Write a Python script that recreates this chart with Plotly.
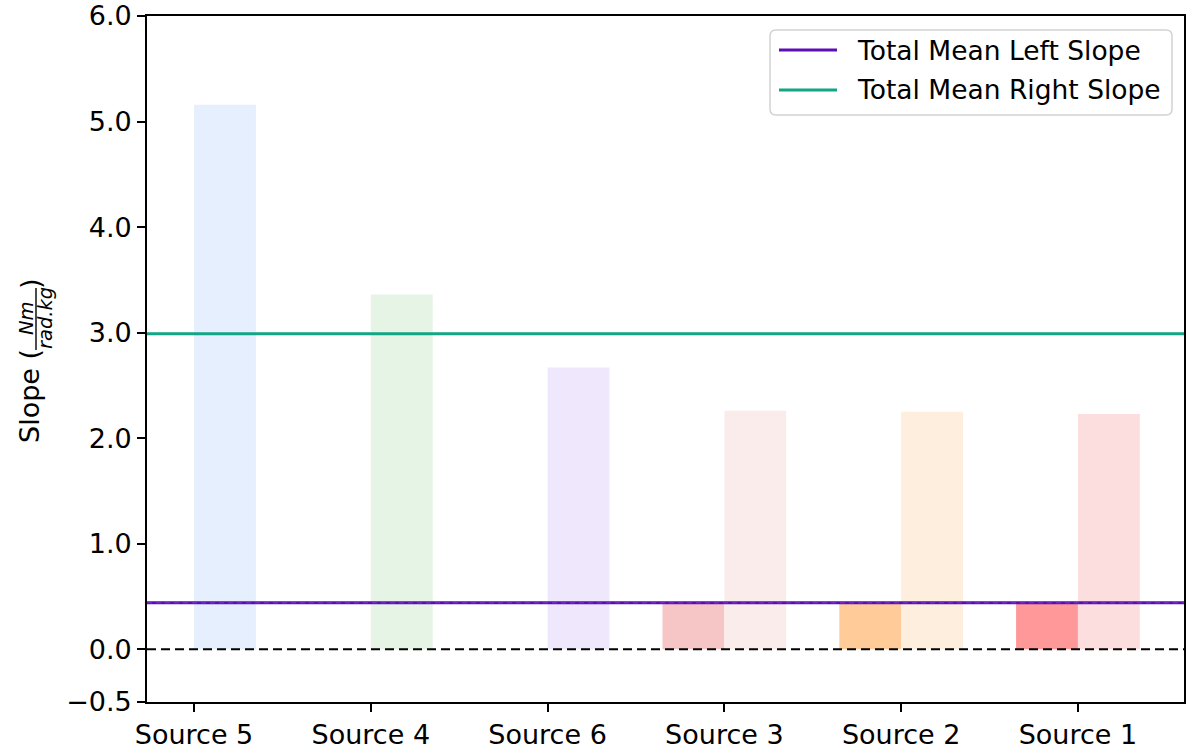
import re
import plotly.graph_objects as go

# Data
sources = ["Source 5", "Source 4", "Source 6", "Source 3", "Source 2", "Source 1"]
left_slope = [None, None, None, 0.44, 0.44, 0.44]
right_slope = [5.16, 3.36, 2.67, 2.26, 2.25, 2.23]
left_colors = ["#e5effd", "#e5f4e5", "#efe7fc", "#f6c6c6", "#ffcc99", "#ff9999"]
right_colors = ["#e5effd", "#e5f4e5", "#efe7fc", "#fbecec", "#feeede", "#fddede"]
y_ticks = [-0.5, 0.0, 1.0, 2.0, 3.0, 4.0, 5.0, 6.0]
y_tick_labels = ["\u22120.5", "0.0", "1.0", "2.0", "3.0", "4.0", "5.0", "6.0"]
legend_names = ["Total Mean Left Slope", "Total Mean Right Slope"]
line_colors = ["#5c0eb2", "#12a586"]

left_vals = [v for v in left_slope if v is not None]
mean_left = sum(left_vals) / len(left_vals)
mean_right = sum(right_slope) / len(right_slope)
means = [mean_left, mean_right]

FONT = "DejaVu Sans"
TICK_SIZE = 27
W, H = 1188, 751
ML, MR, MT, MB = 147, 4, 16, 49
PW, PH = W - ML - MR, H - MT - MB


def px_x(px):
    return (px - ML) / PW


def px_y(py):
    return (H - MB - py) / PH


fig = go.Figure()
fig.add_trace(go.Bar(x=sources, y=left_slope, marker=dict(color=left_colors, line=dict(width=0)),
                     showlegend=False, offsetgroup="L"))
fig.add_trace(go.Bar(x=sources, y=right_slope, marker=dict(color=right_colors, line=dict(width=0)),
                     showlegend=False, offsetgroup="R"))

# zero reference line
fig.add_shape(type="line", xref="x domain", x0=0, x1=1, y0=0, y1=0,
              line=dict(color="black", width=2, dash="9px,5px"), layer="above")
# total mean lines
for m, c in zip(means, line_colors):
    fig.add_shape(type="line", xref="x domain", x0=0, x1=1, y0=m, y1=m,
                  line=dict(color=c, width=3), layer="above")
fig.add_shape(type="line", xref="x domain", x0=0, x1=1, y0=mean_left, y1=mean_left,
              line=dict(color="#7a3ccc", width=1.5, dash="5px,4px"), layer="above",
              opacity=0.6)

# legend box (rounded) with line samples
bx0, bx1, by0, by1, r = 770, 1172, 30, 115, 6
path = (f"M {bx0 + r},{by0} L {bx1 - r},{by0} Q {bx1},{by0} {bx1},{by0 + r} "
        f"L {bx1},{by1 - r} Q {bx1},{by1} {bx1 - r},{by1} L {bx0 + r},{by1} "
        f"Q {bx0},{by1} {bx0},{by1 - r} L {bx0},{by0 + r} Q {bx0},{by0} {bx0 + r},{by0} Z")


def conv(match):
    xx, yy = float(match.group(1)), float(match.group(2))
    return f"{px_x(xx):.5f},{px_y(yy):.5f}"


paper_path = re.sub(r"(-?\d+\.?\d*),(-?\d+\.?\d*)", conv, path)
fig.add_shape(type="path", path=paper_path, xref="paper", yref="paper",
              fillcolor="rgba(255,255,255,0.85)", line=dict(color="#d2d2d2", width=1.5),
              layer="above")
for i, (name, c) in enumerate(zip(legend_names, line_colors)):
    ly = 50 + 40 * i
    fig.add_shape(type="line", xref="paper", yref="paper", x0=px_x(779), x1=px_x(837),
                  y0=px_y(ly), y1=px_y(ly), line=dict(color=c, width=3), layer="above")
    fig.add_annotation(text=name, x=px_x(855), y=px_y(ly), xref="paper", yref="paper",
                       xanchor="left", yanchor="middle", showarrow=False,
                       font=dict(family=FONT, size=26.5, color="black"))

# y-axis title: "Slope (Nm / rad.kg)" with a stacked fraction
ann = [
    dict(text="Slope (", x=px_x(29), y=px_y(396), size=27, style="normal"),
    dict(text="Nm", x=px_x(26), y=px_y(318), size=19.5, style="italic"),
    dict(text="rad.kg", x=px_x(45), y=px_y(318), size=19.5, style="italic"),
    dict(text=")", x=px_x(30), y=px_y(284), size=27, style="normal"),
]
for a in ann:
    fig.add_annotation(text=a["text"], x=a["x"], y=a["y"], xref="paper", yref="paper",
                       xanchor="center", yanchor="middle", textangle=-90, showarrow=False,
                       font=dict(family=FONT, size=a["size"], color="black", style=a["style"]))
fig.add_shape(type="line", xref="paper", yref="paper", x0=px_x(36), x1=px_x(36),
              y0=px_y(288), y1=px_y(350), line=dict(color="black", width=1.4))

fig.update_layout(
    width=W, height=H,
    margin=dict(l=ML, r=MR, t=MT, b=MB, autoexpand=False),
    paper_bgcolor="white", plot_bgcolor="white",
    barmode="group", bargap=0.3, bargroupgap=0,
    font=dict(family=FONT, size=TICK_SIZE, color="black"),
    showlegend=False,
    xaxis=dict(type="category", categoryorder="array", categoryarray=sources,
               range=[-0.266, 5.60], showgrid=False, zeroline=False, automargin=False,
               showline=True, linecolor="black", linewidth=1.8, mirror=True,
               ticks="outside", ticklen=8, tickwidth=1.5, tickcolor="black",
               tickfont=dict(family=FONT, size=TICK_SIZE, color="black")),
    yaxis=dict(range=[-0.5, 6.0], tickvals=y_ticks, ticktext=y_tick_labels,
               showgrid=False, zeroline=False, automargin=False,
               showline=True, linecolor="black", linewidth=1.8, mirror=True,
               ticks="outside", ticklen=8, tickwidth=1.5, tickcolor="black",
               tickfont=dict(family=FONT, size=TICK_SIZE, color="black")),
)

fig.write_html("out.html")
